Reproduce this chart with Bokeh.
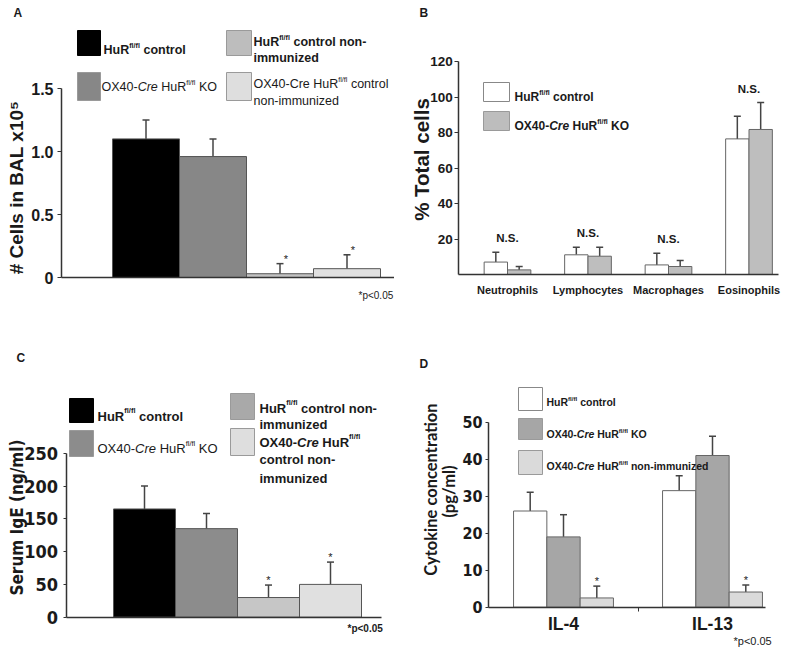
import math
from bokeh.plotting import figure
from bokeh.models import (Range1d, FixedTicker, Label, BoxAnnotation, Whisker,
                          TeeHead, ColumnDataSource)
from bokeh.layouts import column, row
from bokeh.embed import file_html
from bokeh.resources import INLINE
from bokeh.core.properties import value

# ---------------- data ----------------
# Panel A: total cells in BAL (x10^5)
a_groups = ["HuR fl/fl control", "OX40-Cre HuR fl/fl KO",
            "HuR fl/fl control non-immunized",
            "OX40-Cre HuR fl/fl control non-immunized"]
a_cells = [1.10, 0.96, 0.03, 0.07]
a_err = [0.15, 0.14, 0.08, 0.11]
a_sig = ["", "", "*", "*"]
a_ticks = [0, 0.5, 1.0, 1.5]
a_tick_labels = ["0", "0.5", "1.0", "1.5"]

# Panel B: % total cells
b_cells = ["Neutrophils", "Lymphocytes", "Macrophages", "Eosinophils"]
b_ctrl = [7.0, 11.1, 5.4, 76.4]
b_ctrl_err = [5.6, 4.3, 6.6, 12.8]
b_ko = [2.6, 10.3, 4.5, 81.7]
b_ko_err = [1.9, 5.1, 3.4, 15.2]
b_sig = ["N.S.", "N.S.", "N.S.", "N.S."]
b_ticks = [20, 40, 60, 80, 100, 120]

# Panel C: serum IgE (ng/ml)
c_groups = a_groups
c_ige = [165, 135, 30, 50]
c_err = [35, 23, 19, 34]
c_sig = ["", "", "*", "*"]
c_ticks = [0, 50, 100, 150, 200, 250]

# Panel D: cytokine concentration (pg/ml)
d_cytokines = ["IL-4", "IL-13"]
d_ctrl = [26.0, 31.5]
d_ctrl_err = [5.1, 4.0]
d_ko = [19.0, 41.0]
d_ko_err = [6.0, 5.2]
d_non = [2.5, 4.1]
d_non_err = [3.2, 1.9]
d_sig = ["*", "*"]
d_ticks = [0, 10, 20, 30, 40, 50]

# ---------------- styles ----------------
SANS = "Liberation Sans"
NARROW = "DejaVu Sans Condensed"
LATO = "Lato"
INK = "#1a1a1a"
AXC = "#333333"
EDGE = "#555555"

_WR = {' ': 278, '#': 556, '%': 889, '(': 333, ')': 333, '*': 389, '-': 333,
       '.': 278, '/': 278, '<': 584}
_WB = dict(_WR)
for _d in "0123456789":
    _WR[_d] = 556
    _WB[_d] = 556
for _tok in ("A667 B667 C722 D722 E667 F611 G778 H722 I278 J500 K667 L556 M833 "
             "N722 O778 P667 Q778 R722 S667 T611 U722 V667 W944 X667 Y667 Z611 "
             "a556 b556 c500 d556 e556 f278 g556 h556 i222 j222 k500 l222 m833 "
             "n556 o556 p556 q556 r333 s500 t278 u556 v500 w722 x500 y500 z500").split():
    _WR[_tok[0]] = int(_tok[1:])
for _tok in ("A722 B722 C722 D722 E667 F611 G778 H722 I278 J556 K722 L611 M833 "
             "N722 O778 P667 Q778 R722 S667 T611 U722 V667 W944 X667 Y667 Z611 "
             "a556 b611 c556 d611 e556 f333 g611 h611 i278 j278 k556 l278 m889 "
             "n611 o611 p611 q611 r389 s556 t333 u611 v556 w778 x556 y556 z500").split():
    _WB[_tok[0]] = int(_tok[1:])


def wtext(s, bold, size, scale=1.0):
    tbl = _WB if bold else _WR
    return sum(tbl.get(ch, 556) for ch in s) * size * scale / 1000.0


class Panel:
    """A figure whose frame fills the whole panel; axes sit at fixed locations."""

    def __init__(self, x0, y0, w, h, x_zero_px, x_unit_px, y_zero_px, y_unit_px):
        self.xz, self.xu, self.yz, self.yu = x_zero_px, x_unit_px, y_zero_px, y_unit_px
        p = figure(width=w, height=h,
                   x_range=Range1d(self.dx(x0), self.dx(x0 + w)),
                   y_range=Range1d(self.dy(y0 + h), self.dy(y0)),
                   min_border=0, min_border_left=0, min_border_right=0,
                   min_border_top=0, min_border_bottom=0,
                   output_backend="svg", toolbar_location=None, tools="")
        p.outline_line_color = None
        p.xgrid.visible = False
        p.ygrid.visible = False
        p.background_fill_color = "white"
        p.border_fill_color = "white"
        self.p = p

    def dx(self, X):
        return (X - self.xz) / self.xu

    def dy(self, Y):
        return (self.yz - Y) / self.yu

    def label(self, X, Y, text, size, font=SANS, style="bold", align="left",
              baseline="middle", angle=0.0, color=INK):
        self.p.add_layout(Label(x=self.dx(X), y=self.dy(Y), text=text,
                                text_font=font, text_font_size=f"{size}px",
                                text_font_style=style, text_align=align,
                                text_baseline=baseline, angle=angle,
                                text_color=color))

    def rich(self, X, Yc, parts, size, font=SANS, scale=1.0, color=INK):
        base = Yc + 0.36 * size
        ssize = round(size * 0.58, 1)
        for txt, st in parts:
            sup = st.startswith("s")
            bold = "b" in st
            italic = "i" in st
            fs = ssize if sup else size
            lead = len(txt) - len(txt.lstrip(" "))
            X += wtext(" " * lead, bold, fs, scale)
            core = txt.strip(" ")
            yb = base - 0.40 * size if sup else base
            style = " ".join(s for s, on in (("bold", bold), ("italic", italic)) if on) or "normal"
            self.label(X, yb, core, fs, font=font, style=style, baseline="alphabetic",
                       color=color)
            X += wtext(core, bold, fs, scale)

    def swatch(self, X1, Y1, X2, Y2, color, line="#9a9a9a"):
        self.p.add_layout(BoxAnnotation(left=self.dx(X1), right=self.dx(X2),
                                        top=self.dy(Y1), bottom=self.dy(Y2),
                                        fill_color=color, fill_alpha=1.0,
                                        line_color=line, line_alpha=1.0,
                                        line_width=1))

    def axes(self, yaxis_px, xaxis_end_px, yticks, yfont, ysize, ybounds, tick_out,
             standoff, overrides=None, xticks=(), xlabels=(), xfont=SANS, xsize=12,
             xstandoff=3):
        ax = self.p.yaxis[0]
        ax.fixed_location = self.dx(yaxis_px)
        ax.ticker = FixedTicker(ticks=yticks)
        ax.bounds = ybounds
        ax.axis_line_color = AXC
        ax.axis_line_width = 1.5
        ax.major_tick_line_color = AXC
        ax.major_tick_line_width = 1.2
        ax.major_tick_out = tick_out
        ax.major_tick_in = 0
        ax.minor_tick_line_color = None
        ax.major_label_standoff = standoff
        ax.major_label_text_font = yfont
        ax.major_label_text_font_size = f"{ysize}px"
        ax.major_label_text_font_style = "bold"
        ax.major_label_text_color = INK
        if overrides:
            ax.major_label_overrides = overrides
        bx = self.p.xaxis[0]
        bx.fixed_location = 0
        bx.bounds = (self.dx(yaxis_px), self.dx(xaxis_end_px))
        bx.ticker = FixedTicker(ticks=list(xticks))
        bx.axis_line_color = AXC
        bx.axis_line_width = 1.5
        bx.major_tick_line_color = None
        bx.minor_tick_line_color = None
        bx.major_label_standoff = xstandoff
        bx.major_label_text_font = xfont
        bx.major_label_text_font_size = f"{xsize}px"
        bx.major_label_text_font_style = "bold"
        bx.major_label_text_color = INK
        if xlabels:
            bx.major_label_overrides = dict(zip(list(xticks), list(xlabels)))


def bars(P, xs, tops, errs, width, colors, sig, edge=EDGE, sig_dx=0, sig_size=11):
    src = ColumnDataSource(dict(x=xs, top=tops, up=[t + e for t, e in zip(tops, errs)],
                                color=colors, sig=sig))
    P.p.vbar(x="x", top="top", bottom=0, width=width, fill_color="color",
             line_color=edge, line_width=1, source=src)
    P.p.add_layout(Whisker(source=src, base="x", upper="up", lower="top",
                           dimension="height", line_color="#444444", line_width=1.5,
                           upper_head=TeeHead(size=7, line_color="#444444",
                                              line_width=1.5),
                           lower_head=None))
    P.p.text(x="x", y="up", text="sig", source=src, x_offset=sig_dx, y_offset=1,
             text_align="center", text_baseline="bottom", text_font=value(SANS),
             text_font_size=f"{sig_size}px", text_color="#222222")


# ======================= Panel A =======================
A = Panel(0, 0, 394, 322, 145.5, 67, 277, 126)
a_colors = ["#000000", "#878787", "#c2c2c2", "#e0e0e0"]
bars(A, list(range(len(a_cells))), a_cells, a_err, 1.0, a_colors, a_sig, sig_dx=6)
A.axes(61, 394, a_ticks, SANS, 16, (0, 1.5), 4, 4, dict(zip(a_ticks, a_tick_labels)))
A.label(13, 12, "A", 12)
A.label(15.5, 187, "# Cells in BAL x10\u2075", 19, angle=math.pi / 2, align="center")
A.label(358, 295, "*p<0.05", 10, style="normal")
A.swatch(77, 30, 100, 55, a_colors[0], line="#000000")
A.rich(103, 45, [("HuR", "b"), ("fl/fl", "sb"), (" control", "b")], 12.5)
A.swatch(77, 72, 100, 100, a_colors[1])
A.rich(101, 82, [("OX40-", "r"), ("Cre", "i"), (" HuR", "r"), ("fl/fl", "sr"),
                 (" KO", "r")], 12.5)
A.swatch(226, 30, 251, 55, "#bdbdbd")
A.rich(253, 37, [("HuR", "b"), ("fl/fl", "sb"), (" control non-", "b")], 12.5)
A.rich(253, 53, [("immunized", "b")], 12.5)
A.swatch(226, 72, 251, 100, "#dedede")
A.rich(253, 79, [("OX40-Cre HuR", "r"), ("fl/fl", "sr"), (" control", "r")], 12.5)
A.rich(253, 95.5, [("non-immunized", "r")], 12.5)

# ======================= Panel B =======================
B = Panel(394, 0, 395, 322, 507, 80.5, 274, 1.775)
bw = 0.29
idx = list(range(len(b_cells)))
bars(B, [i - bw / 2 for i in idx], b_ctrl, b_ctrl_err, bw, ["#ffffff"] * 4,
     [""] * 4, edge="#666666")
bars(B, [i + bw / 2 for i in idx], b_ko, b_ko_err, bw, ["#bebebe"] * 4,
     [""] * 4, edge="#666666")
ns_src = ColumnDataSource(dict(
    x=idx, y=[max(c + ce, k + ke) for c, ce, k, ke in zip(b_ctrl, b_ctrl_err, b_ko, b_ko_err)],
    t=b_sig))
B.p.text(x="x", y="y", text="t", source=ns_src, y_offset=-14, text_align="center",
         text_baseline="middle", text_font=value(SANS), text_font_style="bold",
         text_font_size="11.5px", text_color=INK)
B.axes(458.3, 778, b_ticks, SANS, 13.5, (0, 120), 4, 2,
       xticks=idx, xlabels=b_cells, xfont=SANS, xsize=11, xstandoff=3)
B.label(419, 12, "B", 12)
B.label(421, 159, "% Total cells", 20.5, angle=math.pi / 2, align="center")
B.swatch(483, 82, 509, 101, "#ffffff", line="#888888")
B.rich(514, 92, [("HuR", "b"), ("fl/fl", "sb"), (" control", "b")], 12)
B.swatch(483, 111, 509, 130, "#bdbdbd")
B.rich(514, 121, [("OX40-", "b"), ("Cre", "bi"), (" HuR", "b"), ("fl/fl", "sb"),
                  (" KO", "b")], 12)

# ======================= Panel C =======================
C = Panel(0, 322, 394, 329, 144, 62, 616.7, 0.656)
c_colors = ["#000000", "#8c8c8c", "#c6c6c6", "#e0e0e0"]
bars(C, list(range(len(c_ige))), c_ige, c_err, 1.0, c_colors, c_sig)
C.axes(65.5, 381, c_ticks, NARROW, 18, (0, 250), 3, 5)
C.label(16, 357, "C", 12)
C.label(16, 517, "Serum IgE (ng/ml)", 17, font=NARROW, angle=math.pi / 2,
        align="center")
C.label(347, 628, "*p<0.05", 10)
C.swatch(69, 398, 93, 422, c_colors[0], line="#000000")
C.rich(97, 411, [("HuR", "b"), ("fl/fl", "sb"), (" control", "b")], 13)
C.swatch(69, 430, 93, 456, c_colors[1])
C.rich(97, 443.5, [("OX40-", "r"), ("Cre", "i"), (" HuR", "r"), ("fl/fl", "sr"),
                   (" KO", "r")], 13)
C.swatch(230, 393, 254, 419, "#a9a9a9")
C.rich(259, 403, [("HuR", "b"), ("fl/fl", "sb"), (" control non-", "b")], 13)
C.rich(259, 419, [("immunized", "b")], 13)
C.swatch(230, 428, 254, 455, "#dedede")
C.rich(259, 437, [("OX40-", "b"), ("Cre", "bi"), (" HuR", "b"), ("fl/fl", "sb")], 13)
C.rich(259, 454.5, [("control non-", "b")], 13)
C.rich(259, 473, [("immunized", "b")], 13)

# ======================= Panel D =======================
D = Panel(394, 322, 395, 329, 563, 149, 606.7, 3.7)
dw = 0.2235
didx = list(range(len(d_cytokines)))
bars(D, [i - dw for i in didx], d_ctrl, d_ctrl_err, dw, ["#ffffff"] * 2, [""] * 2,
     edge="#666666")
bars(D, didx, d_ko, d_ko_err, dw, ["#a6a6a6"] * 2, [""] * 2, edge="#666666")
bars(D, [i + dw for i in didx], d_non, d_non_err, dw, ["#dadada"] * 2, d_sig,
     edge="#666666")
D.axes(488, 765, d_ticks, NARROW, 16, (0, 50), 3, 3,
       xticks=didx, xlabels=d_cytokines, xfont=SANS, xsize=17.5, xstandoff=1)
D.p.xaxis[0].ticker = FixedTicker(ticks=didx, minor_ticks=[0.5])
D.p.xaxis[0].minor_tick_line_color = AXC
D.p.xaxis[0].minor_tick_out = 4
D.p.xaxis[0].minor_tick_in = 0
D.label(419, 363.5, "D", 12)
D.label(430, 489, "Cytokine concentration", 16.5, font=LATO, angle=math.pi / 2,
        align="center")
D.label(448, 491, "(pg/ml)", 16.5, font=LATO, angle=math.pi / 2, align="center")
D.label(733, 640, "*p<0.05", 11, style="normal")
D.swatch(518, 387, 542, 410, "#ffffff", line="#888888")
D.rich(546, 398, [("HuR", "b"), ("fl/fl", "sb"), (" control", "b")], 10.5)
D.swatch(518, 418, 542, 439, "#a6a6a6")
D.rich(546, 430, [("OX40-", "b"), ("Cre", "bi"), (" HuR", "b"), ("fl/fl", "sb"),
                  (" KO", "b")], 10.5)
D.swatch(518, 450, 542, 474, "#dadada")
D.rich(546, 462, [("OX40-", "b"), ("Cre", "bi"), (" HuR", "b"), ("fl/fl", "sb"),
                  (" non-immunized", "b")], 10.5)

layout = column(row(A.p, B.p), row(C.p, D.p))
open("out.html", "w").write(file_html(layout, INLINE))
